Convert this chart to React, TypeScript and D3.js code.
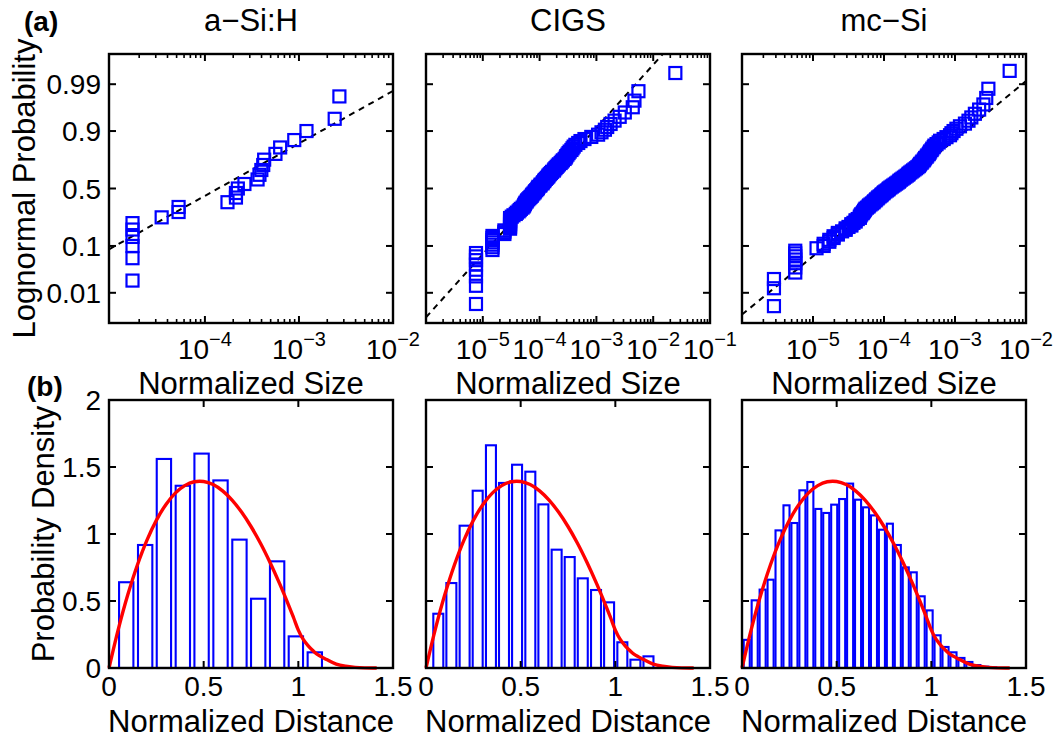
import React from 'react';
import * as d3 from 'd3';

// ---------------- DATA ----------------
const panelTitles = ['a\u2212Si:H', 'CIGS', 'mc\u2212Si'];

// log10(normalized size), sorted ascending (probability plot data)
const sizesASiH = [-4.77, -4.77, -4.77, -4.77, -4.77, -4.77, -4.46, -4.28, -4.28, -3.76, -3.67, -3.67, -3.65, -3.58, -3.44, -3.42, -3.40, -3.38, -3.37, -3.25, -3.20, -3.05, -2.92, -2.62, -2.57];

const sizesCIGS = [
  -5.12, -5.12, -5.12, -5.12, -5.12, -5.12, -5.12, -5.12,
  -4.83, -4.83, -4.83, -4.83, -4.83, -4.83, -4.83,
  -4.62, -4.62, -4.62,
  -4.52, -4.52, -4.52, -4.52, -4.52, -4.52, -4.52, -4.52,
  -4.49, -4.46, -4.42, -4.40, -4.37, -4.35, -4.33, -4.30, -4.28, -4.27,
  -4.26, -4.25, -4.23, -4.22, -4.20, -4.18, -4.16, -4.14, -4.13, -4.11,
  -4.09, -4.08, -4.06, -4.04, -4.03, -4.02, -3.99, -3.98, -3.95, -3.94,
  -3.92, -3.91, -3.89, -3.87, -3.85, -3.84, -3.82, -3.80, -3.78, -3.75,
  -3.74, -3.72, -3.70, -3.68, -3.66, -3.63, -3.61, -3.59, -3.56, -3.54,
  -3.53, -3.51, -3.49, -3.47, -3.44, -3.42, -3.40, -3.37, -3.32, -3.28,
  -3.21, -3.09, -2.97, -2.91, -2.85, -2.81, -2.75, -2.68, -2.59, -2.50,
  -2.36, -2.33, -2.26, -1.61,
];

const sizesMcSi = [
  -5.55, -5.55, -5.55,
  -5.25, -5.25, -5.25, -5.25, -5.25, -5.25, -5.25,
  -4.95, -4.85, -4.85, -4.77, -4.77, -4.71, -4.71, -4.65, -4.65, -4.59,
  -4.54, -4.54, -4.50, -4.46, -4.46, -4.43, -4.40, -4.40, -4.37, -4.34, -4.34,
  -4.33, -4.32, -4.30, -4.29, -4.28, -4.27, -4.26, -4.24, -4.22, -4.21,
  -4.19, -4.17, -4.15, -4.14, -4.12, -4.11, -4.09, -4.08, -4.06, -4.04,
  -4.03, -4.01, -4.00, -3.98, -3.96, -3.94, -3.93, -3.91, -3.89, -3.87,
  -3.85, -3.83, -3.81, -3.79, -3.78, -3.76, -3.74, -3.72, -3.70, -3.68,
  -3.66, -3.65, -3.63, -3.61, -3.59, -3.57, -3.55, -3.53, -3.51, -3.50,
  -3.49, -3.47, -3.46, -3.44, -3.43, -3.42, -3.40, -3.39, -3.37, -3.36,
  -3.35, -3.33, -3.32, -3.30, -3.29, -3.26, -3.23, -3.21, -3.16, -3.12,
  -3.07, -3.05, -3.02, -2.98, -2.93, -2.86, -2.81, -2.77, -2.72, -2.66,
  -2.60, -2.56, -2.53, -2.23,
];

// lognormal reference line parameters (log10 mean, log10 sigma)
const fitMu = [-3.86, -3.96, -3.84];
const fitSigma = [0.855, 0.71, 0.768];

// x-axis extents (log10) and labelled decades
const sizeDomainExp = [[-5.02, -2], [-6, -1], [-6, -2]];
const sizeTickExp = [[-4, -3, -2], [-5, -4, -3, -2, -1], [-5, -4, -3, -2]];
const probTicks = [0.01, 0.1, 0.5, 0.9, 0.99];
const probTickLabels = ['0.01', '0.1', '0.5', '0.9', '0.99'];

// histograms of normalized distance
const histCentersASiH = [0.091, 0.191, 0.290, 0.390, 0.489, 0.589, 0.689, 0.788, 0.888, 0.987, 1.087];
const histASiH = [0.64, 0.918, 1.56, 1.36, 1.60, 1.40, 0.958, 0.517, 0.796, 0.236, 0.117];

const histCentersCIGS = [0.065, 0.134, 0.204, 0.273, 0.343, 0.412, 0.481, 0.551, 0.620, 0.690, 0.759, 0.828, 0.898, 0.967, 1.037, 1.106, 1.175];
const histCIGS = [0.405, 0.634, 1.062, 1.323, 1.662, 1.381, 1.517, 1.465, 1.221, 0.883, 0.828, 0.669, 0.582, 0.490, 0.192, 0.062, 0.087];

const histCentersMcSi = [0.025, 0.067, 0.109, 0.151, 0.193, 0.235, 0.277, 0.319, 0.361, 0.403, 0.445, 0.487, 0.529, 0.571, 0.613, 0.655, 0.697, 0.739, 0.781, 0.823, 0.865, 0.907, 0.949, 0.991, 1.033, 1.075, 1.117, 1.159, 1.201, 1.243, 1.285, 1.327];
const histMcSi = [0.21, 0.505, 0.585, 0.659, 1.027, 1.214, 1.082, 1.326, 1.388, 1.187, 1.157, 1.219, 1.261, 1.376, 1.256, 1.199, 1.139, 1.032, 1.077, 0.918, 0.751, 0.714, 0.535, 0.430, 0.244, 0.157, 0.117, 0.075, 0.045, 0.022, 0.010, 0.005];

// red model curve (same in every panel)
const curveX = [0, 0.05, 0.1, 0.15, 0.2, 0.25, 0.3, 0.35, 0.4, 0.45, 0.5, 0.55, 0.6, 0.65, 0.7, 0.75, 0.8, 0.85, 0.9, 0.95, 0.975, 1.0, 1.025, 1.05, 1.075, 1.1, 1.15, 1.2, 1.25, 1.3, 1.35, 1.414];
const curveY = [0, 0.294, 0.550, 0.769, 0.953, 1.102, 1.219, 1.305, 1.361, 1.390, 1.392, 1.369, 1.322, 1.253, 1.164, 1.056, 0.931, 0.789, 0.633, 0.464, 0.375, 0.283, 0.215, 0.169, 0.132, 0.101, 0.063, 0.029, 0.013, 0.005, 0.001, 0];

const distTicks = [0, 0.5, 1, 1.5];
const distTickLabels = ['0', '0.5', '1', '1.5'];
const densTicks = [0, 0.5, 1, 1.5, 2];
const densTickLabels = ['0', '0.5', '1', '1.5', '2'];

// ---------------- LAYOUT ----------------
const W = 1063;
const H = 738;
const COLS: [number, number][] = [[109, 393], [426, 710], [742, 1026]];
const TOP: [number, number] = [54, 323];
const BOT: [number, number] = [400, 668];
const FONT = "'Liberation Sans', Arial, Helvetica, sans-serif";
const BLUE = '#0000ff';
const RED = '#ff0000';
const MAJ = 7;
const MIN = 4;
const LABEL_FS = 31;
const TICK_FS = 28;

function probit(p: number): number {
  const a = [-3.969683028665376e1, 2.209460984245205e2, -2.759285104469687e2, 1.38357751867269e2, -3.066479806614716e1, 2.506628277459239];
  const b = [-5.447609879822406e1, 1.615858368580409e2, -1.556989798598866e2, 6.680131188771972e1, -1.328068155288572e1];
  const c = [-7.784894002430293e-3, -3.223964580411365e-1, -2.400758277161838, -2.549732539343734, 4.374664141464968, 2.938163982698783];
  const d = [7.784695709041462e-3, 3.224671290700398e-1, 2.445134137142996, 3.754408661907416];
  const pl = 0.02425;
  if (p < pl) {
    const q = Math.sqrt(-2 * Math.log(p));
    return (((((c[0] * q + c[1]) * q + c[2]) * q + c[3]) * q + c[4]) * q + c[5]) / ((((d[0] * q + d[1]) * q + d[2]) * q + d[3]) * q + 1);
  }
  if (p > 1 - pl) {
    const q = Math.sqrt(-2 * Math.log(1 - p));
    return -(((((c[0] * q + c[1]) * q + c[2]) * q + c[3]) * q + c[4]) * q + c[5]) / ((((d[0] * q + d[1]) * q + d[2]) * q + d[3]) * q + 1);
  }
  const q = p - 0.5;
  const r = q * q;
  return (((((a[0] * r + a[1]) * r + a[2]) * r + a[3]) * r + a[4]) * r + a[5]) * q / (((((b[0] * r + b[1]) * r + b[2]) * r + b[3]) * r + b[4]) * r + 1);
}

function ProbPanel({ idx, sizes }: { idx: number; sizes: number[] }) {
  const [x0, x1] = COLS[idx];
  const [e0, e1] = sizeDomainExp[idx];
  const x = d3.scaleLog().domain([Math.pow(10, e0), Math.pow(10, e1)]).range([x0, x1]);
  const y = d3.scaleLinear().domain([-3, 3]).range([TOP[1], TOP[0]]);
  const n = sizes.length;
  const pts = sizes.map((L, i) => ({ x: x(Math.pow(10, L)), y: y(probit((i + 0.5) / n)) }));
  const mu = fitMu[idx];
  const sg = fitSigma[idx];
  const line = d3.line<number>()
    .x((L) => x(Math.pow(10, L)))
    .y((L) => y((L - mu) / sg));
  const clipId = `clipTop${idx}`;
  const majors = sizeTickExp[idx].filter((e) => e > e0 && e < e1);
  const minors: number[] = [];
  for (let dd = Math.floor(e0); dd < Math.ceil(e1); dd++) {
    for (let k = 2; k <= 9; k++) {
      const v = k * Math.pow(10, dd);
      const lv = Math.log10(v);
      if (lv > e0 && lv < e1) minors.push(v);
    }
  }
  const sq = 12;
  return (
    <g>
      <defs>
        <clipPath id={clipId}>
          <rect x={x0} y={TOP[0]} width={x1 - x0} height={TOP[1] - TOP[0]} />
        </clipPath>
      </defs>
      <path d={line([e0, e1]) || ''} fill="none" stroke="#000" strokeWidth={2} strokeDasharray="6,5" clipPath={`url(#${clipId})`} />
      {pts.map((p, i) => (
        <rect key={i} x={p.x - sq / 2} y={p.y - sq / 2} width={sq} height={sq} fill="none" stroke={BLUE} strokeWidth={2.2} />
      ))}
      {majors.map((e) => {
        const xx = x(Math.pow(10, e));
        return (
          <g key={`M${e}`}>
            <line x1={xx} x2={xx} y1={TOP[1]} y2={TOP[1] - MAJ} stroke="#000" strokeWidth={2} />
            <line x1={xx} x2={xx} y1={TOP[0]} y2={TOP[0] + MAJ} stroke="#000" strokeWidth={2} />
          </g>
        );
      })}
      {minors.map((v, i) => {
        const xx = x(v);
        return (
          <g key={`m${i}`}>
            <line x1={xx} x2={xx} y1={TOP[1]} y2={TOP[1] - MIN} stroke="#000" strokeWidth={1.6} />
            <line x1={xx} x2={xx} y1={TOP[0]} y2={TOP[0] + MIN} stroke="#000" strokeWidth={1.6} />
          </g>
        );
      })}
      {probTicks.map((p) => {
        const yy = y(probit(p));
        return (
          <g key={`p${p}`}>
            <line x1={x0} x2={x0 + MAJ} y1={yy} y2={yy} stroke="#000" strokeWidth={2} />
            <line x1={x1} x2={x1 - MAJ} y1={yy} y2={yy} stroke="#000" strokeWidth={2} />
          </g>
        );
      })}
      <rect x={x0} y={TOP[0]} width={x1 - x0} height={TOP[1] - TOP[0]} fill="none" stroke="#000" strokeWidth={2.4} />
      {sizeTickExp[idx].map((e) => (
        <text key={`l${e}`} x={x(Math.pow(10, e))} y={359} textAnchor="middle" fontSize={TICK_FS} fontFamily={FONT}>
          <tspan>10</tspan>
          <tspan fontSize={20} dy={-13}>{'\u2212' + Math.abs(e)}</tspan>
        </text>
      ))}
      {idx === 0 && probTicks.map((p, i) => (
        <text key={`pl${p}`} x={x0 - 8} y={y(probit(p))} dy="0.36em" textAnchor="end" fontSize={TICK_FS} fontFamily={FONT}>
          {probTickLabels[i]}
        </text>
      ))}
      <text x={(x0 + x1) / 2} y={31} textAnchor="middle" fontSize={LABEL_FS} fontFamily={FONT}>{panelTitles[idx]}</text>
      <text x={(x0 + x1) / 2} y={394} textAnchor="middle" fontSize={LABEL_FS} fontFamily={FONT}>Normalized Size</text>
    </g>
  );
}

function HistPanel({ idx, centers, heights, binWidth }: { idx: number; centers: number[]; heights: number[]; binWidth: number }) {
  const [x0, x1] = COLS[idx];
  const x = d3.scaleLinear().domain([0, 1.5]).range([x0, x1]);
  const y = d3.scaleLinear().domain([0, 2]).range([BOT[1], BOT[0]]);
  const bw = binWidth * 0.76;
  const curve = d3.line<number>()
    .x((_, i) => x(curveX[i]))
    .y((v) => y(v))
    .curve(d3.curveCatmullRom.alpha(0.5));
  return (
    <g>
      {centers.map((c, i) => (
        <rect key={i} x={x(c - bw / 2)} y={y(heights[i])} width={x(c + bw / 2) - x(c - bw / 2)} height={y(0) - y(heights[i])} fill="#fff" stroke={BLUE} strokeWidth={2.1} />
      ))}
      <path d={curve(curveY) || ''} fill="none" stroke={RED} strokeWidth={3.4} />
      {distTicks.filter((t) => t > 0 && t < 1.5).map((t) => (
        <g key={`x${t}`}>
          <line x1={x(t)} x2={x(t)} y1={BOT[1]} y2={BOT[1] - MAJ} stroke="#000" strokeWidth={2} />
          <line x1={x(t)} x2={x(t)} y1={BOT[0]} y2={BOT[0] + MAJ} stroke="#000" strokeWidth={2} />
        </g>
      ))}
      {densTicks.filter((t) => t > 0 && t < 2).map((t) => (
        <g key={`y${t}`}>
          <line x1={x0} x2={x0 + MAJ} y1={y(t)} y2={y(t)} stroke="#000" strokeWidth={2} />
          <line x1={x1} x2={x1 - MAJ} y1={y(t)} y2={y(t)} stroke="#000" strokeWidth={2} />
        </g>
      ))}
      <rect x={x0} y={BOT[0]} width={x1 - x0} height={BOT[1] - BOT[0]} fill="none" stroke="#000" strokeWidth={2.4} />
      {distTicks.map((t, i) => (
        <text key={`xl${t}`} x={x(t)} y={696} textAnchor="middle" fontSize={TICK_FS} fontFamily={FONT}>{distTickLabels[i]}</text>
      ))}
      {idx === 0 && densTicks.map((t, i) => (
        <text key={`yl${t}`} x={x0 - 8} y={y(t)} dy="0.36em" textAnchor="end" fontSize={TICK_FS} fontFamily={FONT}>{densTickLabels[i]}</text>
      ))}
      <text x={(x0 + x1) / 2} y={732} textAnchor="middle" fontSize={LABEL_FS} fontFamily={FONT}>Normalized Distance</text>
    </g>
  );
}

export default function App() {
  return (
    <svg width={W} height={H} viewBox={`0 0 ${W} ${H}`} style={{ position: 'absolute', left: 0, top: 0, background: '#fff' }}>
      <rect x={0} y={0} width={W} height={H} fill="#fff" />
      <ProbPanel idx={0} sizes={sizesASiH} />
      <ProbPanel idx={1} sizes={sizesCIGS} />
      <ProbPanel idx={2} sizes={sizesMcSi} />
      <HistPanel idx={0} centers={histCentersASiH} heights={histASiH} binWidth={0.0996} />
      <HistPanel idx={1} centers={histCentersCIGS} heights={histCIGS} binWidth={0.0694} />
      <HistPanel idx={2} centers={histCentersMcSi} heights={histMcSi} binWidth={0.042} />
      <text x={24} y={31} fontSize={28} fontWeight="bold" fontFamily={FONT}>(a)</text>
      <text x={27} y={396} fontSize={28} fontWeight="bold" fontFamily={FONT}>(b)</text>
      <text transform="translate(35,188.5) rotate(-90)" textAnchor="middle" fontSize={LABEL_FS} fontFamily={FONT}>Lognormal Probability</text>
      <text transform="translate(54,534) rotate(-90)" textAnchor="middle" fontSize={LABEL_FS} fontFamily={FONT}>Probability Density</text>
    </svg>
  );
}
